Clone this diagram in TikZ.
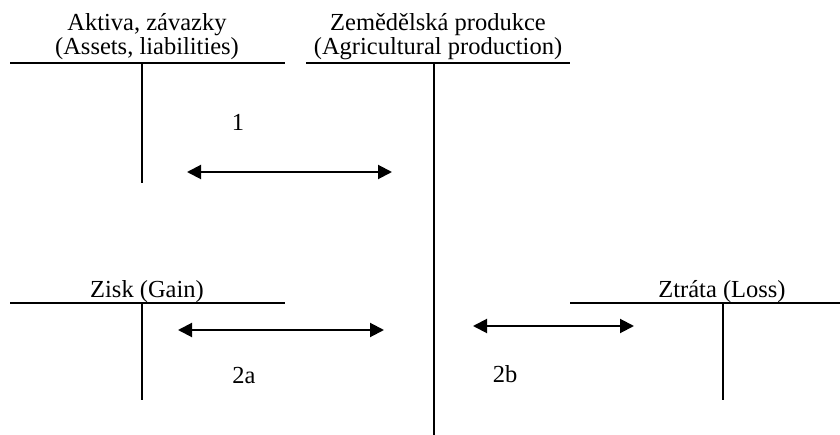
\documentclass[tikz,border=0pt]{standalone}
\usepackage{fontspec}
\setmainfont{Liberation Serif}
\usetikzlibrary{arrows.meta}
\begin{document}
\begin{tikzpicture}[x=1pt,y=-1pt,
  tline/.style={line width=2pt},
  flow/.style={line width=2pt,{Triangle[length=14pt,width=14pt]}-{Triangle[length=14pt,width=14pt]}},
  lbl/.style={inner sep=0pt,anchor=base,font=\fontsize{24.5}{24}\selectfont}]
\useasboundingbox (0,0) rectangle (840,435);

% Aktiva, zavazky
\node[lbl] (a1) at (147,31) {Aktiva, závazky};
\node[lbl] (a2) at (147,55) {(Assets, liabilities)};
\coordinate (aL) at (10,63); \coordinate (aR) at (285,63);
\coordinate (aT) at (142,63); \coordinate (aB) at (142,183);
\draw[tline] (aL) -- (aR);
\draw[tline] (aT) -- (aB);

% Zemedelska produkce
\node[lbl] (z1) at (438,31) {Zemědělská produkce};
\node[lbl] (z2) at (438,55) {(Agricultural production)};
\coordinate (zL) at (306,63); \coordinate (zR) at (570,63);
\coordinate (zT) at (434,63); \coordinate (zB) at (434,435);
\draw[tline] (zL) -- (zR);
\draw[tline] (zT) -- (zB);

% Zisk
\node[lbl] (g1) at (147,298) {Zisk (Gain)};
\coordinate (gL) at (10,303); \coordinate (gR) at (285,303);
\coordinate (gT) at (142,303); \coordinate (gB) at (142,400);
\draw[tline] (gL) -- (gR);
\draw[tline] (gT) -- (gB);

% Ztrata
\node[lbl] (l1) at (722,298) {Ztráta (Loss)};
\coordinate (lL) at (570,303); \coordinate (lR) at (840,303);
\coordinate (lT) at (723,303); \coordinate (lB) at (723,400);
\draw[tline] (lL) -- (lR);
\draw[tline] (lT) -- (lB);

% arrows
\coordinate (f1a) at (187,172); \coordinate (f1b) at (392,172);
\draw[flow] (f1a) -- (f1b);
\node[lbl] (n1) at (238,131) {1};

\coordinate (f2a) at (178,330); \coordinate (f2b) at (384,330);
\draw[flow] (f2a) -- (f2b);
\node[lbl] (n2a) at (244,383) {2a};

\coordinate (f3a) at (473,326); \coordinate (f3b) at (634,326);
\draw[flow] (f3a) -- (f3b);
\node[lbl] (n2b) at (505,382) {2b};
\end{tikzpicture}
\end{document}
